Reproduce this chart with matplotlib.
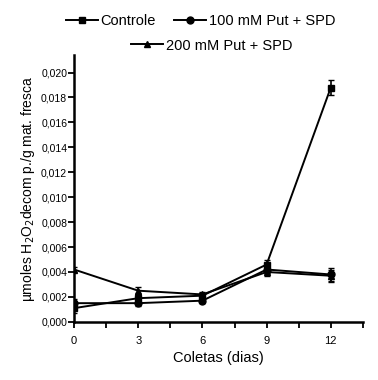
import numpy as np
import matplotlib
matplotlib.use('Agg')
import matplotlib.pyplot as plt
from matplotlib.ticker import FuncFormatter, MultipleLocator

plt.rcParams['font.family'] = ['Liberation Sans', 'DejaVu Sans']

dias = [0, 3, 6, 9, 12]
controle = [0.0011, 0.0019, 0.0021, 0.0046, 0.0188]
controle_err = [0.0004, 0.0003, 0.0002, 0.0004, 0.0006]
put100 = [0.0015, 0.0015, 0.0017, 0.0042, 0.0038]
put100_err = [0.0003, 0.0002, 0.0002, 0.0003, 0.0005]
put200 = [0.0042, 0.0025, 0.0022, 0.0040, 0.0037]
put200_err = [0.0002, 0.0003, 0.0002, 0.0003, 0.0005]
nomes = ['Controle', '100 mM Put + SPD', '200 mM Put + SPD']

fig = plt.figure(figsize=(3.78, 3.80), dpi=100)
ax = fig.add_axes([0.196, 0.153, 0.764, 0.702])

h = []
for y, e, m, nome in zip([controle, put100, put200],
                         [controle_err, put100_err, put200_err],
                         ['s', 'o', '^'], nomes):
    l = ax.errorbar(dias, y, yerr=e, color='black', marker=m, markersize=5,
                    linewidth=1.4, capsize=2, elinewidth=1.2, label=nome)
    h.append(l[0])  # so a linha, sem barra de erro na legenda

ax.set_xlim(0, 13.5)
ax.set_ylim(0, 0.0214)
ax.xaxis.set_major_locator(MultipleLocator(1.5))
ax.xaxis.set_major_formatter(FuncFormatter(lambda v, p: '%d' % v if v % 3 == 0 else ''))
ax.yaxis.set_major_locator(MultipleLocator(0.002))
ax.yaxis.set_major_formatter(FuncFormatter(lambda v, p: ('%.3f' % v).replace('.', ',')))
ax.tick_params(axis='y', labelsize=7.5, width=1.3, length=4, pad=1)
ax.tick_params(axis='x', labelsize=8, width=1.3, length=4, pad=6)
for s in ['top', 'right']:
    ax.spines[s].set_visible(False)
for s in ['left', 'bottom']:
    ax.spines[s].set_linewidth(1.8)

ax.set_xlabel('Coletas (dias)', fontsize=10.5)
ax.set_ylabel('µmoles H$_2$O$_2$decom p./g mat. fresca', fontsize=10, labelpad=3)

fig.legend(h[:2], nomes[:2], ncol=2, loc='center', bbox_to_anchor=(0.53, 0.945),
           frameon=False, fontsize=10.5, handlelength=2.2, handletextpad=0.2,
           columnspacing=1.2, borderaxespad=0)
fig.legend(h[2:], nomes[2:], loc='center', bbox_to_anchor=(0.56, 0.88),
           frameon=False, fontsize=10.5, handlelength=2.2, handletextpad=0.2,
           borderaxespad=0)

fig.savefig('out.png', dpi=100)
